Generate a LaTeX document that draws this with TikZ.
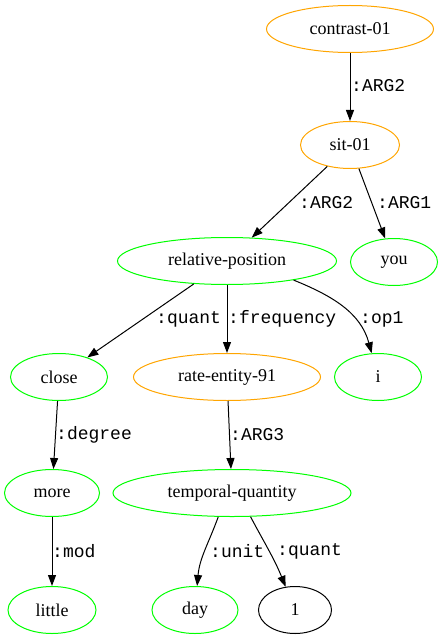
\documentclass[tikz,border=0pt]{standalone}
\usepackage{fontspec}
\setmainfont{Liberation Serif}
\setmonofont{Liberation Mono}
\usetikzlibrary{arrows.meta, shapes.geometric}

\definecolor{amrorange}{RGB}{255,165,0}
\definecolor{amrgreen}{RGB}{0,255,0}

\tikzset{
  concept/.style = {ellipse, draw, line width=1pt, inner sep=0pt, minimum height=47pt,
    font=\fontsize{18}{20}\selectfont},
  pred/.style = {concept, draw=amrorange},
  attr/.style = {concept, draw=amrgreen},
  const/.style = {concept, draw=black},
  role/.style = {anchor=west, inner sep=0pt, font=\ttfamily\fontsize{18}{20}\selectfont},
  rel/.style = {-{Triangle[length=11pt,width=8pt]}, line width=1pt}
}

\begin{document}
\begin{tikzpicture}[x=1pt, y=-1pt]
	    \useasboundingbox (0,0) rectangle (443,639);
	    \node[pred, minimum width=167pt] (contrast) at (350,29) {contrast-01};
	    \node[pred, minimum width=99pt] (sit) at (350,145) {sit-01};
	    \node[attr, minimum width=219pt] (relpos) at (227,261) {relative-position};
	    \node[attr, minimum width=87pt] (you) at (394,262) {you};
	    \node[attr, minimum width=97pt] (close) at (59,377) {close};
	    \node[pred, minimum width=187pt] (rate) at (227,377) {rate-entity-91};
	    \node[attr, minimum width=87pt] (i) at (378,377) {i};
	    \node[attr, minimum width=95pt] (more) at (52,493) {more};
	    \node[attr, minimum width=238pt] (tq) at (232,493) {temporal-quantity};
	    \node[attr, minimum width=88pt] (little) at (52,610) {little};
	    \node[attr, minimum width=86pt] (day) at (195,610) {day};
	    \node[const, minimum width=73pt] (one) at (295,610) {1};
	    % roles
	    \draw[rel] (contrast) -- (sit);
	    \draw[rel] (sit) -- (relpos);
	    \draw[rel] (sit) -- (you);
	    \draw[rel] (relpos) -- (close);
	    \draw[rel] (relpos) -- (rate);
	    \draw[rel] (relpos.-16) to[out=-22, in=105] (i);
	    \draw[rel] (close) -- (more);
	    \draw[rel] (rate) -- (tq);
	    \draw[rel] (more) -- (little);
	    \draw[rel] (tq.-120) to[out=-110, in=85] (day);
	    \draw[rel] (tq.-52) to[out=-62, in=112] (one);
	    % role labels
	    \node[role] (l_arg2a) at (351,86) {:ARG2};
	    \node[role] (l_arg2b) at (299,203) {:ARG2};
	    \node[role] (l_arg1) at (377,203) {:ARG1};
	    \node[role] (l_quanta) at (156,319) {:quant};
	    \node[role] (l_freq) at (228,319) {:frequency};
	    \node[role] (l_op1) at (360,319) {:op1};
	    \node[role] (l_degree) at (56,435) {:degree};
	    \node[role] (l_arg3) at (230,435) {:ARG3};
	    \node[role] (l_mod) at (52,551) {:mod};
	    \node[role] (l_unit) at (210,551) {:unit};
	    \node[role] (l_quantb) at (277,551) {:quant};
\end{tikzpicture}
\end{document}
